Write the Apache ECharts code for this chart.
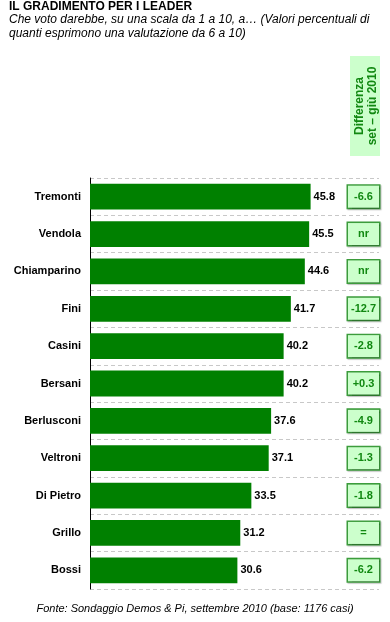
<!DOCTYPE html>
<html><head><meta charset="utf-8">
<script src="https://cdn.jsdelivr.net/npm/echarts@6/dist/echarts.min.js"></script>
<style>html,body{margin:0;padding:0;background:#fff}#c{width:390px;height:622px}</style>
</head><body><div id="c"></div>
<script>
const leaders = ['Tremonti','Vendola','Chiamparino','Fini','Casini','Bersani','Berlusconi','Veltroni','Di Pietro','Grillo','Bossi'];
const values = [45.8,45.5,44.6,41.7,40.2,40.2,37.6,37.1,33.5,31.2,30.6];
const diffs = ['-6.6','nr','nr','-12.7','-2.8','+0.3','-4.9','-1.3','-1.8','=','-6.2'];
const xMax = 60;

const chart = echarts.init(document.getElementById('c'), null, {renderer:'canvas'});
chart.setOption({
  animation:false,
  backgroundColor:'#fff',
  title:{
    text:'IL GRADIMENTO PER I LEADER',
    subtext:'Che voto darebbe, su una scala da 1 a 10, a… (Valori percentuali di\nquanti esprimono una valutazione da 6 a 10)',
    left:4, top:-4, itemGap:0,
    textStyle:{fontFamily:'Arial, Liberation Sans',fontSize:12,fontWeight:'bold',color:'#000'},
    subtextStyle:{fontFamily:'Arial, Liberation Sans',fontSize:12,fontStyle:'italic',color:'#000',lineHeight:14}
  },
  grid:{left:90,right:11,top:178,bottom:33,containLabel:false},
  xAxis:{type:'value',min:0,max:xMax,show:false},
  yAxis:[{
    type:'category',data:leaders,inverse:true,
    axisLine:{show:true,lineStyle:{color:'#000',width:1}},
    axisTick:{show:false},
    splitLine:{show:true,lineStyle:{color:'#c8c8c8',type:[4,3],width:1}},
    axisLabel:{margin:9,fontFamily:'Arial, Liberation Sans',fontSize:11,fontWeight:'bold',color:'#000'}
  },{
    type:'category',data:diffs,inverse:true,position:'right',
    axisLine:{show:false},axisTick:{show:false},splitLine:{show:false},
    axisLabel:{inside:true,margin:0,
      formatter:v=>'{b|'+v+'}',
      rich:{b:{backgroundColor:'#ccffcc',borderColor:'#3c9c3c',borderWidth:1.5,width:31,height:22,align:'center',
        fontFamily:'Arial, Liberation Sans',fontSize:11,fontWeight:'bold',color:'#118811',
        shadowColor:'rgba(0,0,0,0.25)',shadowOffsetX:1,shadowOffsetY:1,shadowBlur:1}}}
  }],
  series:[{
    type:'bar',data:values,barCategoryGap:'31%',yAxisIndex:0,
    itemStyle:{color:'#008000'},
    label:{show:true,position:'right',distance:3,fontFamily:'Arial, Liberation Sans',fontSize:11,fontWeight:'bold',color:'#000',
      formatter:p=>p.value.toFixed(1)}
  }],
  graphic:[
    {type:'rect',left:350,top:56,shape:{width:30,height:100},style:{fill:'#ccffcc'}},
    {type:'text',x:366,y:106,rotation:Math.PI/2,
      style:{text:'Differenza\nset – giù 2010',fill:'#118811',font:'bold 12px Arial, Liberation Sans',align:'center',verticalAlign:'middle',lineHeight:13}},
    {type:'text',left:'center',top:603,
      style:{text:'Fonte: Sondaggio Demos & Pi, settembre 2010 (base: 1176 casi)',fill:'#000',font:'italic 11px Arial, Liberation Sans'}}
  ]
});
</script></body></html>
